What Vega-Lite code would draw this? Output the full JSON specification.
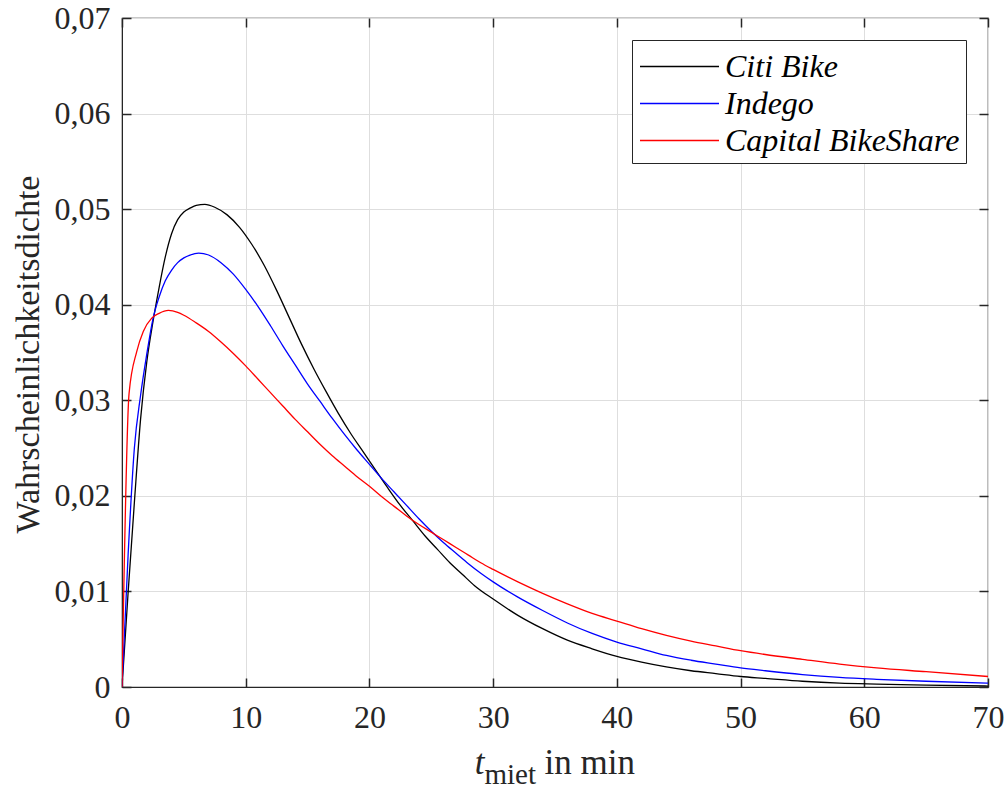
{
  "$schema": "https://vega.github.io/schema/vega-lite/v6.json",
  "width": 866,
  "height": 669,
  "autosize": {"type": "none"},
  "padding": {"left": 122, "top": 18, "right": 19, "bottom": 102},
  "background": "white",
  "config": {
    "font": "Liberation Serif",
    "view": {"stroke": "#262626", "strokeWidth": 1.2},
    "axis": {
      "labelFont": "Liberation Serif",
      "labelFontSize": 32,
      "labelColor": "#262626",
      "titleFont": "Liberation Serif",
      "titleColor": "#262626",
      "titleFontWeight": "normal",
      "tickColor": "#262626",
      "domainColor": "#262626",
      "gridColor": "#dedede",
      "gridWidth": 1,
      "tickWidth": 1.5
    },
    "legend": {
      "labelFont": "Liberation Serif"
    }
  },
  "data": {
    "values": [
      {"t": 0, "dichte": 0, "verteilung": "Citi Bike"},
      {"t": 0.5, "dichte": 0.0100, "verteilung": "Citi Bike"},
      {"t": 1, "dichte": 0.0193, "verteilung": "Citi Bike"},
      {"t": 1.5, "dichte": 0.0280, "verteilung": "Citi Bike"},
      {"t": 2, "dichte": 0.0340, "verteilung": "Citi Bike"},
      {"t": 2.5, "dichte": 0.0382, "verteilung": "Citi Bike"},
      {"t": 3, "dichte": 0.0418, "verteilung": "Citi Bike"},
      {"t": 3.5, "dichte": 0.0450, "verteilung": "Citi Bike"},
      {"t": 4, "dichte": 0.0474, "verteilung": "Citi Bike"},
      {"t": 4.5, "dichte": 0.0489, "verteilung": "Citi Bike"},
      {"t": 5, "dichte": 0.0497, "verteilung": "Citi Bike"},
      {"t": 5.5, "dichte": 0.0501, "verteilung": "Citi Bike"},
      {"t": 6, "dichte": 0.0504, "verteilung": "Citi Bike"},
      {"t": 6.7, "dichte": 0.0505, "verteilung": "Citi Bike"},
      {"t": 7.5, "dichte": 0.0502, "verteilung": "Citi Bike"},
      {"t": 8.5, "dichte": 0.0494, "verteilung": "Citi Bike"},
      {"t": 9.5, "dichte": 0.0481, "verteilung": "Citi Bike"},
      {"t": 10.5, "dichte": 0.0463, "verteilung": "Citi Bike"},
      {"t": 11.5, "dichte": 0.0441, "verteilung": "Citi Bike"},
      {"t": 12.5, "dichte": 0.0415, "verteilung": "Citi Bike"},
      {"t": 13.5, "dichte": 0.0387, "verteilung": "Citi Bike"},
      {"t": 14.5, "dichte": 0.0359, "verteilung": "Citi Bike"},
      {"t": 15.5, "dichte": 0.0333, "verteilung": "Citi Bike"},
      {"t": 16.5, "dichte": 0.0309, "verteilung": "Citi Bike"},
      {"t": 17.5, "dichte": 0.0286, "verteilung": "Citi Bike"},
      {"t": 18.5, "dichte": 0.0265, "verteilung": "Citi Bike"},
      {"t": 19.5, "dichte": 0.0246, "verteilung": "Citi Bike"},
      {"t": 20.5, "dichte": 0.0227, "verteilung": "Citi Bike"},
      {"t": 21.5, "dichte": 0.0208, "verteilung": "Citi Bike"},
      {"t": 22.5, "dichte": 0.0190, "verteilung": "Citi Bike"},
      {"t": 23.5, "dichte": 0.0174, "verteilung": "Citi Bike"},
      {"t": 24.5, "dichte": 0.0158, "verteilung": "Citi Bike"},
      {"t": 25.5, "dichte": 0.0144, "verteilung": "Citi Bike"},
      {"t": 26.5, "dichte": 0.0130, "verteilung": "Citi Bike"},
      {"t": 27.5, "dichte": 0.0118, "verteilung": "Citi Bike"},
      {"t": 28.5, "dichte": 0.0106, "verteilung": "Citi Bike"},
      {"t": 30, "dichte": 0.0092, "verteilung": "Citi Bike"},
      {"t": 32, "dichte": 0.0075, "verteilung": "Citi Bike"},
      {"t": 34, "dichte": 0.0061, "verteilung": "Citi Bike"},
      {"t": 36, "dichte": 0.0049, "verteilung": "Citi Bike"},
      {"t": 38, "dichte": 0.0040, "verteilung": "Citi Bike"},
      {"t": 40, "dichte": 0.0032, "verteilung": "Citi Bike"},
      {"t": 42, "dichte": 0.0026, "verteilung": "Citi Bike"},
      {"t": 44, "dichte": 0.0021, "verteilung": "Citi Bike"},
      {"t": 46, "dichte": 0.0017, "verteilung": "Citi Bike"},
      {"t": 48, "dichte": 0.0014, "verteilung": "Citi Bike"},
      {"t": 50, "dichte": 0.0011, "verteilung": "Citi Bike"},
      {"t": 52, "dichte": 0.0009, "verteilung": "Citi Bike"},
      {"t": 55, "dichte": 0.0006, "verteilung": "Citi Bike"},
      {"t": 58, "dichte": 0.0004, "verteilung": "Citi Bike"},
      {"t": 61, "dichte": 0.0003, "verteilung": "Citi Bike"},
      {"t": 65, "dichte": 0.0002, "verteilung": "Citi Bike"},
      {"t": 70, "dichte": 0.0001, "verteilung": "Citi Bike"},

      {"t": 0, "dichte": 0, "verteilung": "Indego"},
      {"t": 0.5, "dichte": 0.0140, "verteilung": "Indego"},
      {"t": 1, "dichte": 0.0250, "verteilung": "Indego"},
      {"t": 1.5, "dichte": 0.0305, "verteilung": "Indego"},
      {"t": 2, "dichte": 0.0348, "verteilung": "Indego"},
      {"t": 2.5, "dichte": 0.0385, "verteilung": "Indego"},
      {"t": 3, "dichte": 0.0408, "verteilung": "Indego"},
      {"t": 3.5, "dichte": 0.0425, "verteilung": "Indego"},
      {"t": 4, "dichte": 0.0436, "verteilung": "Indego"},
      {"t": 4.5, "dichte": 0.0444, "verteilung": "Indego"},
      {"t": 5, "dichte": 0.0449, "verteilung": "Indego"},
      {"t": 5.5, "dichte": 0.0452, "verteilung": "Indego"},
      {"t": 6.2, "dichte": 0.0454, "verteilung": "Indego"},
      {"t": 7, "dichte": 0.0452, "verteilung": "Indego"},
      {"t": 8, "dichte": 0.0444, "verteilung": "Indego"},
      {"t": 9, "dichte": 0.0432, "verteilung": "Indego"},
      {"t": 10, "dichte": 0.0416, "verteilung": "Indego"},
      {"t": 11, "dichte": 0.0398, "verteilung": "Indego"},
      {"t": 12, "dichte": 0.0378, "verteilung": "Indego"},
      {"t": 13, "dichte": 0.0357, "verteilung": "Indego"},
      {"t": 14, "dichte": 0.0337, "verteilung": "Indego"},
      {"t": 15, "dichte": 0.0317, "verteilung": "Indego"},
      {"t": 16, "dichte": 0.0299, "verteilung": "Indego"},
      {"t": 17, "dichte": 0.0281, "verteilung": "Indego"},
      {"t": 18, "dichte": 0.0264, "verteilung": "Indego"},
      {"t": 19, "dichte": 0.0248, "verteilung": "Indego"},
      {"t": 20, "dichte": 0.0233, "verteilung": "Indego"},
      {"t": 21, "dichte": 0.0218, "verteilung": "Indego"},
      {"t": 22, "dichte": 0.0204, "verteilung": "Indego"},
      {"t": 23, "dichte": 0.0190, "verteilung": "Indego"},
      {"t": 24, "dichte": 0.0176, "verteilung": "Indego"},
      {"t": 25, "dichte": 0.0163, "verteilung": "Indego"},
      {"t": 26, "dichte": 0.0151, "verteilung": "Indego"},
      {"t": 27, "dichte": 0.0140, "verteilung": "Indego"},
      {"t": 28, "dichte": 0.0129, "verteilung": "Indego"},
      {"t": 29, "dichte": 0.0119, "verteilung": "Indego"},
      {"t": 30, "dichte": 0.0110, "verteilung": "Indego"},
      {"t": 32, "dichte": 0.0094, "verteilung": "Indego"},
      {"t": 34, "dichte": 0.0080, "verteilung": "Indego"},
      {"t": 36, "dichte": 0.0067, "verteilung": "Indego"},
      {"t": 38, "dichte": 0.0056, "verteilung": "Indego"},
      {"t": 40, "dichte": 0.0047, "verteilung": "Indego"},
      {"t": 42, "dichte": 0.0040, "verteilung": "Indego"},
      {"t": 44, "dichte": 0.0033, "verteilung": "Indego"},
      {"t": 46, "dichte": 0.0028, "verteilung": "Indego"},
      {"t": 48, "dichte": 0.0024, "verteilung": "Indego"},
      {"t": 50, "dichte": 0.0020, "verteilung": "Indego"},
      {"t": 52, "dichte": 0.0017, "verteilung": "Indego"},
      {"t": 55, "dichte": 0.0013, "verteilung": "Indego"},
      {"t": 58, "dichte": 0.0010, "verteilung": "Indego"},
      {"t": 61, "dichte": 0.0008, "verteilung": "Indego"},
      {"t": 65, "dichte": 0.0006, "verteilung": "Indego"},
      {"t": 70, "dichte": 0.0004, "verteilung": "Indego"},

      {"t": 0, "dichte": 0, "verteilung": "Capital BikeShare"},
      {"t": 0.57, "dichte": 0.0307, "verteilung": "Capital BikeShare"},
      {"t": 1.19, "dichte": 0.0351, "verteilung": "Capital BikeShare"},
      {"t": 1.72, "dichte": 0.0372, "verteilung": "Capital BikeShare"},
      {"t": 2.4, "dichte": 0.0386, "verteilung": "Capital BikeShare"},
      {"t": 3, "dichte": 0.0391, "verteilung": "Capital BikeShare"},
      {"t": 3.75, "dichte": 0.0394, "verteilung": "Capital BikeShare"},
      {"t": 4.5, "dichte": 0.0392, "verteilung": "Capital BikeShare"},
      {"t": 5, "dichte": 0.0389, "verteilung": "Capital BikeShare"},
      {"t": 6, "dichte": 0.0381, "verteilung": "Capital BikeShare"},
      {"t": 7, "dichte": 0.0372, "verteilung": "Capital BikeShare"},
      {"t": 8, "dichte": 0.0361, "verteilung": "Capital BikeShare"},
      {"t": 9, "dichte": 0.0349, "verteilung": "Capital BikeShare"},
      {"t": 10, "dichte": 0.0336, "verteilung": "Capital BikeShare"},
      {"t": 11, "dichte": 0.0322, "verteilung": "Capital BikeShare"},
      {"t": 12, "dichte": 0.0308, "verteilung": "Capital BikeShare"},
      {"t": 13, "dichte": 0.0294, "verteilung": "Capital BikeShare"},
      {"t": 14, "dichte": 0.0280, "verteilung": "Capital BikeShare"},
      {"t": 15, "dichte": 0.0267, "verteilung": "Capital BikeShare"},
      {"t": 16, "dichte": 0.0254, "verteilung": "Capital BikeShare"},
      {"t": 17, "dichte": 0.0242, "verteilung": "Capital BikeShare"},
      {"t": 18, "dichte": 0.0231, "verteilung": "Capital BikeShare"},
      {"t": 19, "dichte": 0.0220, "verteilung": "Capital BikeShare"},
      {"t": 20, "dichte": 0.0210, "verteilung": "Capital BikeShare"},
      {"t": 21, "dichte": 0.0199, "verteilung": "Capital BikeShare"},
      {"t": 22, "dichte": 0.0189, "verteilung": "Capital BikeShare"},
      {"t": 23, "dichte": 0.0179, "verteilung": "Capital BikeShare"},
      {"t": 24, "dichte": 0.0170, "verteilung": "Capital BikeShare"},
      {"t": 25, "dichte": 0.0162, "verteilung": "Capital BikeShare"},
      {"t": 26, "dichte": 0.0154, "verteilung": "Capital BikeShare"},
      {"t": 27, "dichte": 0.0146, "verteilung": "Capital BikeShare"},
      {"t": 28, "dichte": 0.0138, "verteilung": "Capital BikeShare"},
      {"t": 29, "dichte": 0.0130, "verteilung": "Capital BikeShare"},
      {"t": 30, "dichte": 0.0123, "verteilung": "Capital BikeShare"},
      {"t": 32, "dichte": 0.0110, "verteilung": "Capital BikeShare"},
      {"t": 34, "dichte": 0.0098, "verteilung": "Capital BikeShare"},
      {"t": 36, "dichte": 0.0087, "verteilung": "Capital BikeShare"},
      {"t": 38, "dichte": 0.0077, "verteilung": "Capital BikeShare"},
      {"t": 40, "dichte": 0.0069, "verteilung": "Capital BikeShare"},
      {"t": 42, "dichte": 0.0061, "verteilung": "Capital BikeShare"},
      {"t": 44, "dichte": 0.0054, "verteilung": "Capital BikeShare"},
      {"t": 46, "dichte": 0.0048, "verteilung": "Capital BikeShare"},
      {"t": 48, "dichte": 0.0043, "verteilung": "Capital BikeShare"},
      {"t": 50, "dichte": 0.0038, "verteilung": "Capital BikeShare"},
      {"t": 52, "dichte": 0.0034, "verteilung": "Capital BikeShare"},
      {"t": 55, "dichte": 0.0029, "verteilung": "Capital BikeShare"},
      {"t": 58, "dichte": 0.0024, "verteilung": "Capital BikeShare"},
      {"t": 61, "dichte": 0.0020, "verteilung": "Capital BikeShare"},
      {"t": 65, "dichte": 0.0016, "verteilung": "Capital BikeShare"},
      {"t": 70, "dichte": 0.0011, "verteilung": "Capital BikeShare"}
    ]
  },
  "layer": [
    {
      "mark": {"type": "line", "strokeWidth": 1.3, "clip": true, "interpolate": "monotone"},
      "encoding": {
        "x": {
          "field": "t", "type": "quantitative",
          "scale": {"domain": [0, 70], "nice": false, "zero": false},
          "axis": {
            "orient": "bottom",
            "values": [0, 10, 20, 30, 40, 50, 60, 70],
            "grid": true,
            "tickSize": -9,
            "labelPadding": 24,
            "labelBaseline": "top",
            "labelFlush": false,
            "domain": true,
            "title": "t",
            "titleFontStyle": "italic",
            "titleFontSize": 35,
            "titleAlign": "center",
            "titleBaseline": "alphabetic",
            "titleX": 357,
            "titleY": 86
          }
        },
        "y": {
          "field": "dichte", "type": "quantitative",
          "scale": {"domain": [0, 0.07], "nice": false},
          "axis": {
            "orient": "left",
            "values": [0, 0.01, 0.02, 0.03, 0.04, 0.05, 0.06, 0.07],
            "grid": true,
            "tickSize": -9,
            "labelPadding": 21,
            "labelFlush": false,
            "labelExpr": "datum.value == 0 ? '0' : replace(format(datum.value, '.2f'), '.', ',')",
            "domain": true,
            "title": "Wahrscheinlichkeitsdichte",
            "titleFontSize": 34,
            "titleAngle": 270,
            "titleAlign": "center",
            "titleBaseline": "alphabetic",
            "titleX": -84,
            "titleY": 336
          }
        },
        "color": {
          "field": "verteilung", "type": "nominal",
          "scale": {"domain": ["Citi Bike", "Indego", "Capital BikeShare"], "range": ["#000000", "#0000ff", "#ff0000"]},
          "legend": {
            "title": null,
            "orient": "top-right",
            "offset": 22,
            "padding": 6,
            "rowPadding": 0,
            "strokeColor": "#262626",
            "fillColor": "white",
            "symbolType": "M-2,0H2",
            "symbolSize": 1560,
            "symbolStrokeWidth": 1.3,
            "symbolOffset": 21,
            "labelFontSize": 32,
            "labelFontStyle": "italic",
            "labelColor": "#000000",
            "labelOffset": 25,
            "labelLimit": 400
          }
        }
      }
    },
    {
      "mark": {"type": "point", "opacity": 0},
      "encoding": {
        "x": {
          "field": "t", "type": "quantitative",
          "scale": {"domain": [0, 70], "nice": false, "zero": false},
          "axis": {
            "orient": "top",
            "values": [0, 10, 20, 30, 40, 50, 60, 70],
            "grid": false,
            "labels": false,
            "domain": false,
            "tickSize": -9,
            "title": "miet",
            "titleFontSize": 29,
            "titleAlign": "left",
            "titleBaseline": "alphabetic",
            "titleX": 362,
            "titleY": 765
          }
        },
        "y": {
          "field": "dichte", "type": "quantitative",
          "scale": {"domain": [0, 0.07], "nice": false},
          "axis": {
            "orient": "right",
            "values": [0, 0.01, 0.02, 0.03, 0.04, 0.05, 0.06, 0.07],
            "grid": false,
            "labels": false,
            "domain": false,
            "tickSize": -9,
            "title": null
          }
        }
      }
    },
    {
      "mark": {"type": "point", "opacity": 0},
      "encoding": {
        "x": {
          "field": "t", "type": "quantitative",
          "scale": {"domain": [0, 70], "nice": false, "zero": false},
          "axis": {
            "orient": "bottom",
            "grid": false,
            "labels": false,
            "ticks": false,
            "domain": false,
            "title": "in min",
            "titleFontSize": 35,
            "titleAlign": "left",
            "titleBaseline": "alphabetic",
            "titleX": 422,
            "titleY": 86
          }
        },
        "y": {
          "field": "dichte", "type": "quantitative",
          "scale": {"domain": [0, 0.07], "nice": false},
          "axis": null
        }
      }
    }
  ],
  "resolve": {"axis": {"x": "independent", "y": "independent"}}
}
